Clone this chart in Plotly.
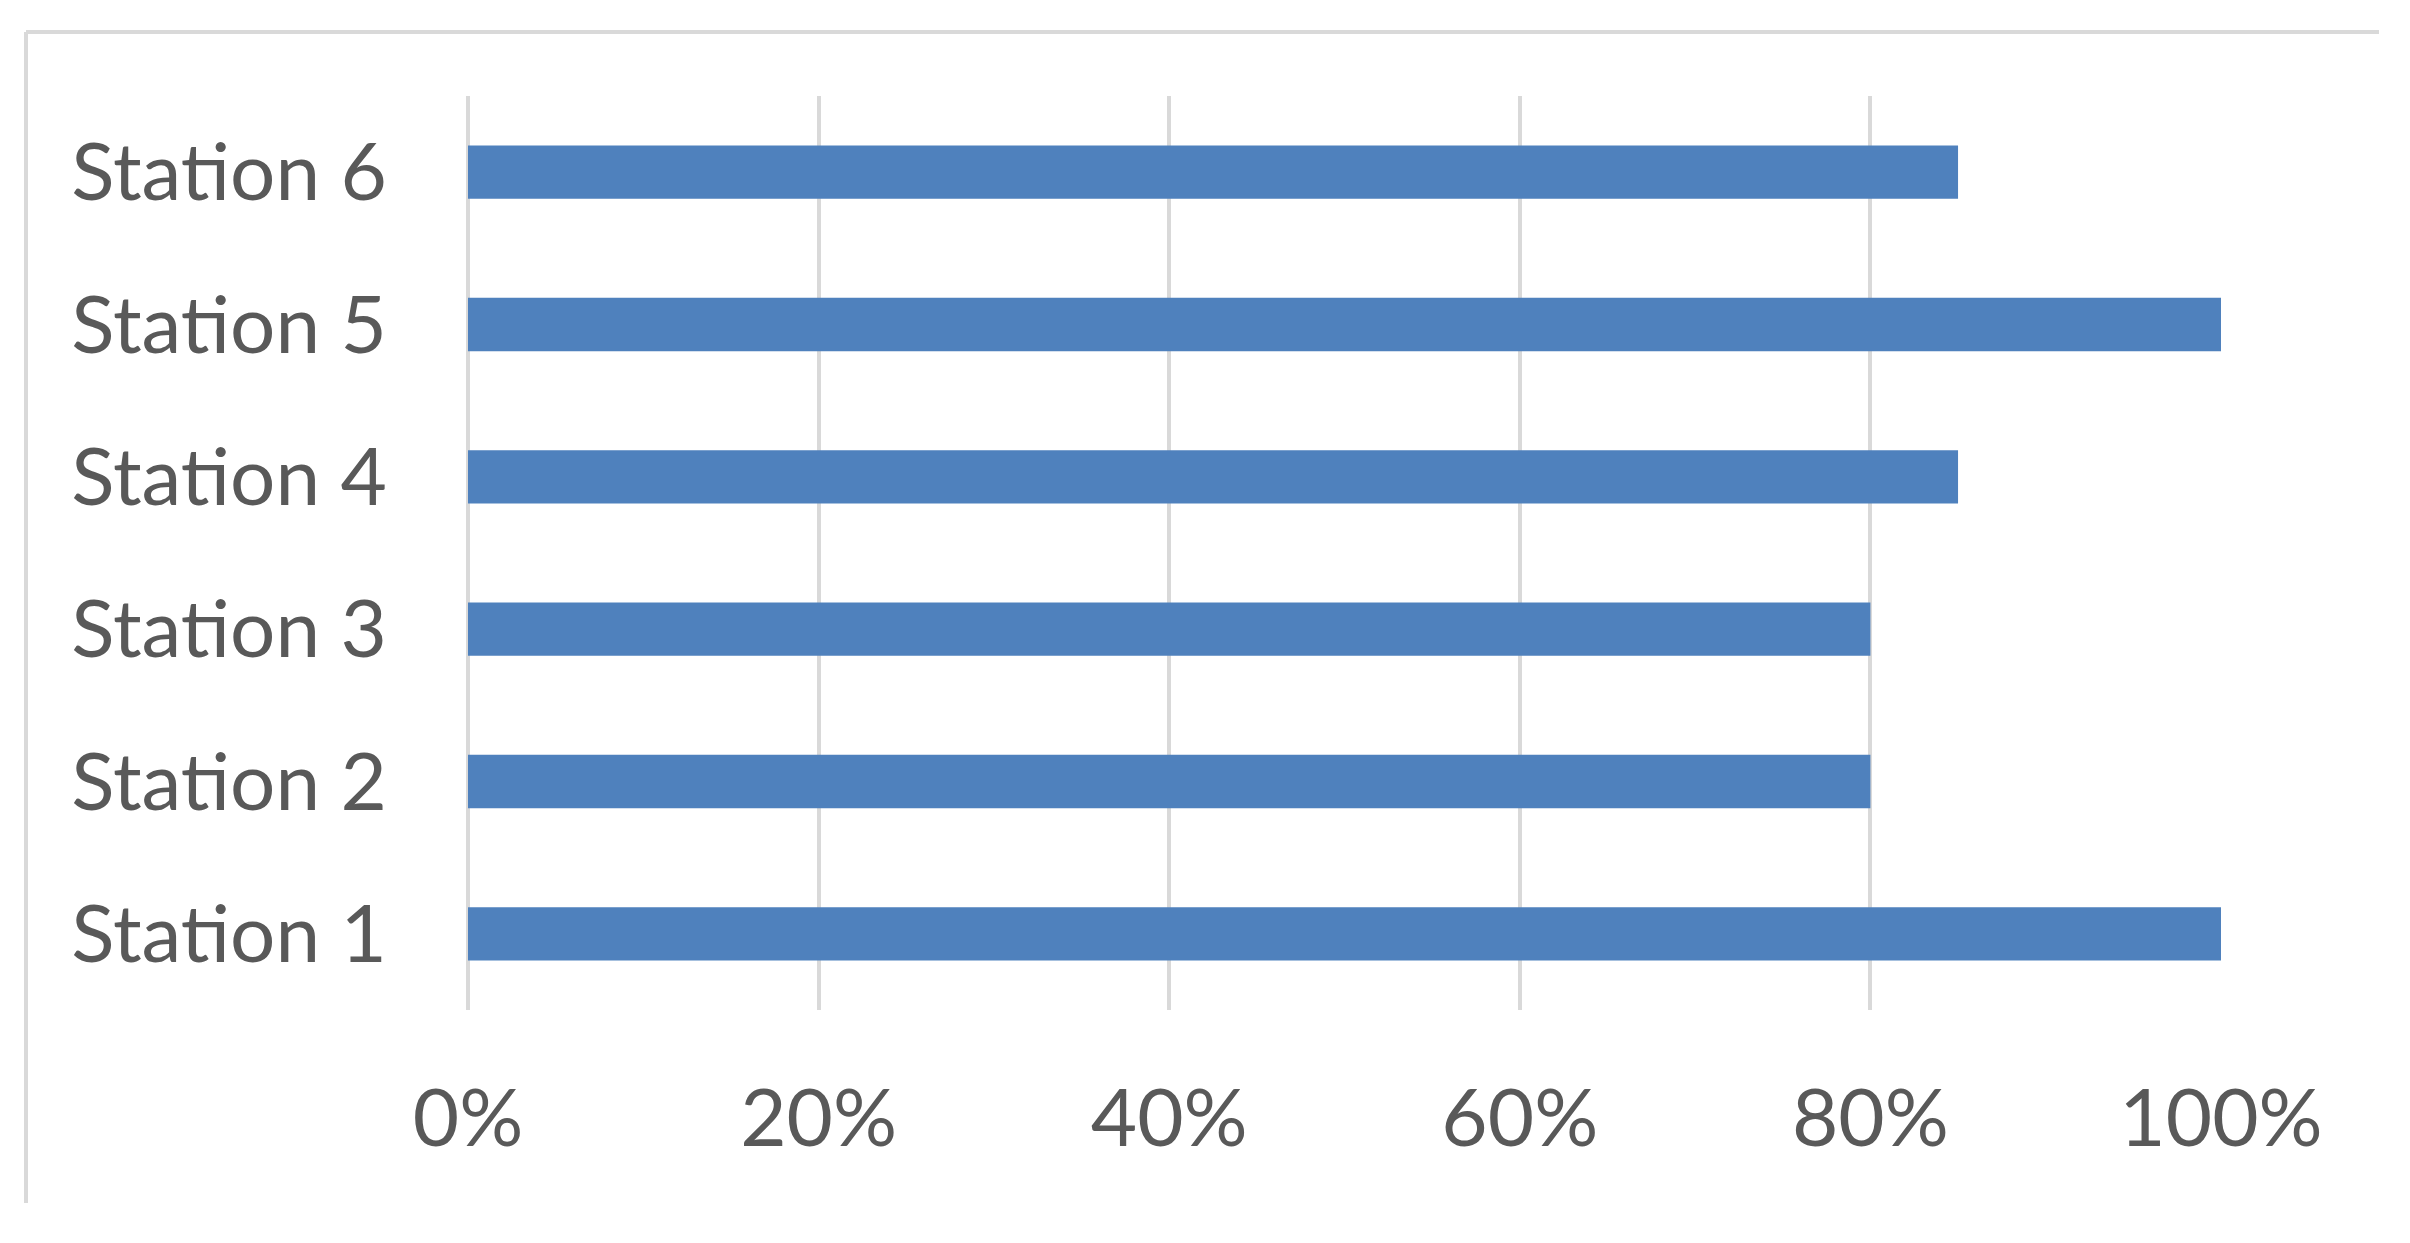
import plotly.graph_objects as go

# ---- data ----
stations = ["Station 1", "Station 2", "Station 3", "Station 4", "Station 5", "Station 6"]
shares = [1.00, 0.80, 0.80, 0.85, 1.00, 0.85]
tick_values = [0, 0.2, 0.4, 0.6, 0.8, 1.0]
tick_labels = ["0%", "20%", "40%", "60%", "80%", "100%"]

OFF = 8  # default body margin of the html page
W, H = 2410 - 2 * OFF, 1243 - 2 * OFF
# plot area in page pixels
PL, PR, PT, PB = 468, 2221, 96, 1010
L, R, T, B = PL - OFF, PR - OFF, PT - OFF, PB - OFF

def px_x(p):
    return (p - OFF - L) / (R - L)

def px_y(p):
    return (B - (p - OFF)) / (B - T)

grid = "#d9d9d9"
txt = "#595959"
font_family = "Lato, 'Open Sans', sans-serif"

fig = go.Figure(
    go.Bar(
        x=shares,
        y=stations,
        orientation="h",
        marker=dict(color="#4f81bd", line=dict(width=0)),
        hoverinfo="skip",
    )
)

fig.update_layout(
    width=W,
    height=H,
    margin=dict(l=L, r=W - R, t=T, b=H - B, pad=0),
    paper_bgcolor="white",
    plot_bgcolor="white",
    bargap=0.65,
    showlegend=False,
    font=dict(family=font_family, size=80, color=txt),
    shapes=[
        dict(type="line", xref="paper", yref="paper",
             x0=px_x(26), x1=px_x(2379), y0=px_y(32), y1=px_y(32),
             line=dict(color=grid, width=4), layer="below"),
        dict(type="line", xref="paper", yref="paper",
             x0=px_x(26), x1=px_x(26), y0=px_y(32), y1=px_y(1203),
             line=dict(color=grid, width=4), layer="below"),
    ],
)

fig.update_xaxes(
    range=[0, 1],
    tickvals=tick_values,
    ticktext=tick_labels,
    showgrid=True,
    gridcolor=grid,
    gridwidth=4,
    zeroline=True,
    zerolinecolor=grid,
    zerolinewidth=4,
    showline=False,
    ticks="",
    ticklabelstandoff=55,
    tickfont=dict(family=font_family, size=80, color=txt),
    fixedrange=True,
)

fig.update_yaxes(
    type="category",
    categoryorder="array",
    categoryarray=stations,
    showgrid=False,
    zeroline=False,
    showline=False,
    ticks="",
    ticklabelstandoff=80,
    tickfont=dict(family=font_family, size=80, color=txt),
    fixedrange=True,
)

fig.write_html("out.html", config={"displayModeBar": False})
